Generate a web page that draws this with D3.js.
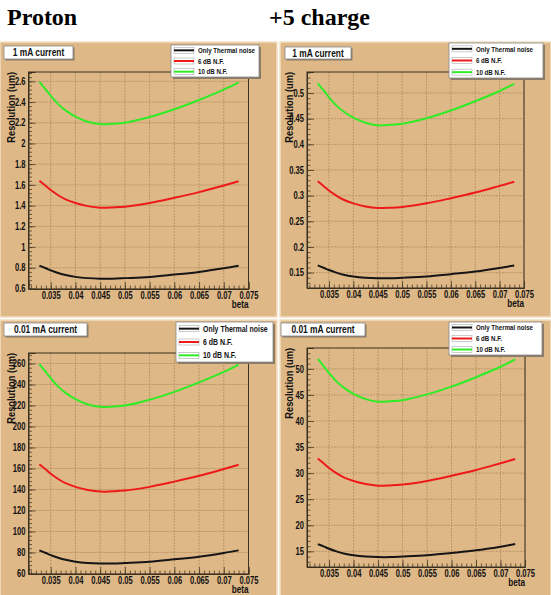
<!DOCTYPE html>
<html>
<head>
<meta charset="utf-8">
<script src="https://cdn.jsdelivr.net/npm/d3@7"></script>
<style>
body { margin: 0; background: #fff; }
svg text { font-family: "Liberation Sans", Arial, Helvetica, sans-serif; font-weight: bold; }
svg text.title { font-family: "Liberation Serif", "Times New Roman", serif; }
</style>
</head>
<body>
<script>

// beta sample points (same for every curve)
var beta = [0.0327, 0.034, 0.035, 0.0365, 0.038, 0.04, 0.0425, 0.045, 0.0475, 0.05, 0.055, 0.06, 0.065, 0.07, 0.073];

var seriesNames = ["Only Thermal noise", "6 dB N.F.", "10 dB N.F."];
var seriesColors = ["#151515", "#ee1a1a", "#30ec26"];

var columnTitles = ["Proton", "+5 charge"];
var currentLabels = ["1 mA current", "0.01 mA current"];

// Proton, 1 mA
var protonHighThermal = [0.82, 0.795, 0.775, 0.75, 0.73, 0.712, 0.70, 0.695, 0.695, 0.70, 0.712, 0.735, 0.76, 0.795, 0.82];
var protonHigh6dB = [1.64, 1.59, 1.55, 1.50, 1.46, 1.425, 1.395, 1.38, 1.383, 1.39, 1.425, 1.475, 1.53, 1.595, 1.635];
var protonHigh10dB = [2.595, 2.52, 2.46, 2.38, 2.32, 2.26, 2.21, 2.187, 2.19, 2.20, 2.255, 2.33, 2.42, 2.52, 2.59];

// +5 charge, 1 mA
var chargeHighThermal = [0.164, 0.159, 0.155, 0.15, 0.146, 0.1425, 0.140, 0.139, 0.139, 0.140, 0.1425, 0.147, 0.152, 0.159, 0.164];
var chargeHigh6dB = [0.328, 0.318, 0.31, 0.30, 0.292, 0.285, 0.279, 0.276, 0.2765, 0.278, 0.285, 0.295, 0.306, 0.319, 0.327];
var chargeHigh10dB = [0.519, 0.504, 0.492, 0.476, 0.464, 0.452, 0.442, 0.437, 0.438, 0.44, 0.451, 0.466, 0.484, 0.504, 0.518];

// Proton, 0.01 mA
var protonLowThermal = [82, 79.5, 77.5, 75, 73, 71.2, 70, 69.5, 69.5, 70, 71.2, 73.5, 76, 79.5, 82];
var protonLow6dB = [164, 159, 155, 150, 146, 142.5, 139.5, 138, 138.3, 139, 142.5, 147.5, 153, 159.5, 163.5];
var protonLow10dB = [259.5, 252, 246, 238, 232, 226, 221, 218.7, 219, 220, 225.5, 233, 242, 252, 259];

// +5 charge, 0.01 mA
var chargeLowThermal = [16.4, 15.9, 15.5, 15.0, 14.6, 14.25, 14.0, 13.9, 13.9, 14.0, 14.25, 14.7, 15.2, 15.9, 16.4];
var chargeLow6dB = [32.8, 31.8, 31.0, 30.0, 29.2, 28.5, 27.9, 27.6, 27.65, 27.8, 28.5, 29.5, 30.6, 31.9, 32.7];
var chargeLow10dB = [51.9, 50.4, 49.2, 47.6, 46.4, 45.2, 44.2, 43.7, 43.8, 44.0, 45.1, 46.6, 48.4, 50.4, 51.8];

// tick labels
var xTicks = [0.035, 0.04, 0.045, 0.05, 0.055, 0.06, 0.065, 0.07, 0.075];
var protonHighTicks = [0.6, 0.8, 1, 1.2, 1.4, 1.6, 1.8, 2, 2.2, 2.4, 2.6];
var chargeHighTicks = [0.15, 0.2, 0.25, 0.3, 0.35, 0.4, 0.45, 0.5];
var protonLowTicks = [60, 80, 100, 120, 140, 160, 180, 200, 220, 240, 260];
var chargeLowTicks = [15, 20, 25, 30, 35, 40, 45, 50];

var W = 551, H = 595;
var bg = "#deb887";
var ink = "#111";

var svg = d3.select("body").append("svg")
	.attr("width", W)
	.attr("height", H);

// ROOT-style narrow bold text: squeeze horizontally around the anchor
function narrow(sel, k) {
	sel.each(function() {
		var t = d3.select(this);
		var x = +t.attr("x") || 0;
		var pre = t.attr("data-pre") || "";
		t.attr("x", x / k).attr("transform", pre + " scale(" + k + ",1)");
	});
}

// column headers
svg.append("text").attr("class", "title")
	.attr("x", 7).attr("y", 25)
	.style("font-size", "24px")
	.text(columnTitles[0]);
svg.append("text").attr("class", "title")
	.attr("x", 269).attr("y", 25)
	.style("font-size", "24px")
	.text(columnTitles[1]);

// layout of the four pads
var panels = [
	{pad: [0, 42, 277, 275], frame: [28.5, 72, 248.5, 289], title: [4, 46, 73, 59], legend: [171, 45, 259, 77],
		yDomain: [0.595, 2.69], yTicks: protonHighTicks, yMinor: 0.04, label: currentLabels[0], legendFont: 7.5,
		series: [protonHighThermal, protonHigh6dB, protonHigh10dB]},
	{pad: [280, 42, 271, 275], frame: [307, 72, 524, 288], title: [285, 47, 351, 59], legend: [449, 43, 543, 78],
		yDomain: [0.12, 0.541], yTicks: chargeHighTicks, yMinor: 0.01, label: currentLabels[0], legendFont: 7.5,
		series: [chargeHighThermal, chargeHigh6dB, chargeHigh10dB]},
	{pad: [0, 320, 277, 280], frame: [28.5, 353, 248.5, 574], title: [4, 323, 87, 336], legend: [176, 322, 273, 362],
		yDomain: [59.5, 270], yTicks: protonLowTicks, yMinor: 4, label: currentLabels[1], legendFont: 8.5,
		series: [protonLowThermal, protonLow6dB, protonLow10dB]},
	{pad: [280, 320, 271, 280], frame: [307, 348, 525, 567], title: [281, 323, 365, 336], legend: [449, 322, 542, 355],
		yDomain: [12, 54], yTicks: chargeLowTicks, yMinor: 1, label: currentLabels[1], legendFont: 7.5,
		series: [chargeLowThermal, chargeLow6dB, chargeLow10dB]}
];

var fmt = d3.format("~g");

function minorTicks(domain, step) {
	var out = [];
	var start = Math.ceil(domain[0] / step - 1e-9);
	for (var k = start; k * step <= domain[1] + 1e-9; k++) out.push(+(k * step).toFixed(6));
	return out;
}

panels.forEach(function(p) {
	var f = p.frame;
	var w = f[2] - f[0], h = f[3] - f[1];

	// pad background
	svg.append("rect")
		.attr("x", p.pad[0]).attr("y", p.pad[1])
		.attr("width", p.pad[2]).attr("height", p.pad[3])
		.attr("fill", bg)
		.attr("stroke", "#f3e0c4")
		.attr("stroke-width", 1.5);

	var g = svg.append("g")
		.attr("transform", "translate(" + f[0] + "," + f[1] + ")");

	var x = d3.scaleLinear().domain([0.0305, 0.075]).range([0, w]);
	var y = d3.scaleLinear().domain(p.yDomain).range([h, 0]);

	// grid
	var grid = g.append("g");
	grid.selectAll(null)
		.data(xTicks)
		.enter().append("line")
		.attr("x1", function(d) { return x(d); })
		.attr("x2", function(d) { return x(d); })
		.attr("y1", 0).attr("y2", h);
	grid.selectAll(null)
		.data(p.yTicks)
		.enter().append("line")
		.attr("x1", 0).attr("x2", w)
		.attr("y1", function(d) { return y(d); })
		.attr("y2", function(d) { return y(d); });
	grid.selectAll("line")
		.attr("stroke", "#b48e5e")
		.attr("stroke-width", 0.8)
		.attr("stroke-dasharray", "2,1");

	// curves
	var line = d3.line()
		.x(function(d) { return x(d[0]); })
		.y(function(d) { return y(d[1]); })
		.curve(d3.curveCatmullRom.alpha(0.5));

	p.series.forEach(function(s, i) {
		g.append("path")
			.datum(d3.zip(beta, s))
			.attr("fill", "none")
			.attr("stroke", seriesColors[i])
			.attr("stroke-width", 2)
			.attr("d", line);
	});

	// frame
	g.append("rect")
		.attr("width", w).attr("height", h)
		.attr("fill", "none")
		.attr("stroke", "#3a3020")
		.attr("stroke-width", 1);

	// minor ticks
	g.append("g")
		.attr("transform", "translate(0," + h + ")")
		.call(d3.axisBottom(x).tickValues(minorTicks(x.domain(), 0.001)).tickSize(-3.5).tickFormat(""))
		.call(function(a) { a.select(".domain").remove(); });
	g.append("g")
		.call(d3.axisLeft(y).tickValues(minorTicks(p.yDomain, p.yMinor)).tickSize(-3.5).tickFormat(""))
		.call(function(a) { a.select(".domain").remove(); });

	// major ticks + labels
	var xa = g.append("g")
		.attr("transform", "translate(0," + h + ")")
		.call(d3.axisBottom(x).tickValues(xTicks).tickSize(-7).tickPadding(3).tickFormat(fmt));
	var ya = g.append("g")
		.call(d3.axisLeft(y).tickValues(p.yTicks).tickSize(-7).tickPadding(3).tickFormat(fmt));

	g.selectAll(".domain").attr("stroke", "#3a3020");
	g.selectAll(".tick line").attr("stroke", "#4a3e2a").attr("stroke-width", 0.8);
	[xa, ya].forEach(function(a) {
		a.attr("font-family", null).attr("font-size", null);
		a.selectAll("text")
			.attr("fill", ink)
			.style("font-size", "10px");
		narrow(a.selectAll("text"), 0.76);
	});

	// axis titles
	g.append("text")
		.attr("data-pre", "rotate(-90)")
		.attr("x", 0)
		.attr("y", -14)
		.attr("text-anchor", "end")
		.style("font-size", "10px")
		.attr("fill", ink)
		.text("Resolution (um)")
		.call(narrow, 0.93);
	g.append("text")
		.attr("x", w)
		.attr("y", h + 19.5)
		.attr("text-anchor", "end")
		.style("font-size", "10px")
		.attr("fill", ink)
		.text("beta")
		.call(narrow, 0.82);

	// title box
	var t = p.title;
	svg.append("rect")
		.attr("x", t[0] + 1.5).attr("y", t[1] + 1.5)
		.attr("width", t[2] - t[0]).attr("height", t[3] - t[1])
		.attr("fill", "#8a7a66");
	svg.append("rect")
		.attr("x", t[0]).attr("y", t[1])
		.attr("width", t[2] - t[0]).attr("height", t[3] - t[1])
		.attr("fill", "#fff")
		.attr("stroke", "#888")
		.attr("stroke-width", 0.8);
	svg.append("text")
		.attr("x", (t[0] + t[2]) / 2)
		.attr("y", (t[1] + t[3]) / 2 + 3.7)
		.attr("text-anchor", "middle")
		.style("font-size", "10.5px")
		.attr("fill", ink)
		.text(p.label)
		.call(narrow, 0.8);

	// legend
	var L = p.legend;
	svg.append("rect")
		.attr("x", L[0] + 2).attr("y", L[1] + 2)
		.attr("width", L[2] - L[0]).attr("height", L[3] - L[1])
		.attr("fill", "#8a7a66");
	svg.append("rect")
		.attr("x", L[0]).attr("y", L[1])
		.attr("width", L[2] - L[0]).attr("height", L[3] - L[1])
		.attr("fill", "#fff")
		.attr("stroke", "#888")
		.attr("stroke-width", 0.8);

	var rowH = (L[3] - L[1]) / seriesNames.length;
	var entry = svg.selectAll(null)
		.data(seriesNames)
		.enter().append("g")
		.attr("transform", function(d, i) {
			return "translate(" + L[0] + "," + (L[1] + rowH * (i + 0.5)) + ")";
		});
	entry.append("rect")
		.attr("x", 3).attr("y", -3)
		.attr("width", 20).attr("height", 6)
		.attr("fill", "none")
		.attr("stroke", "#aaa")
		.attr("stroke-width", 0.6);
	entry.append("line")
		.attr("x1", 3).attr("x2", 23)
		.attr("stroke", function(d, i) { return seriesColors[i]; })
		.attr("stroke-width", 2);
	entry.append("text")
		.attr("x", 27)
		.attr("y", p.legendFont * 0.36)
		.style("font-size", p.legendFont + "px")
		.attr("fill", ink)
		.text(function(d) { return d; })
		.call(narrow, 0.82);
});

</script>
</body>
</html>
